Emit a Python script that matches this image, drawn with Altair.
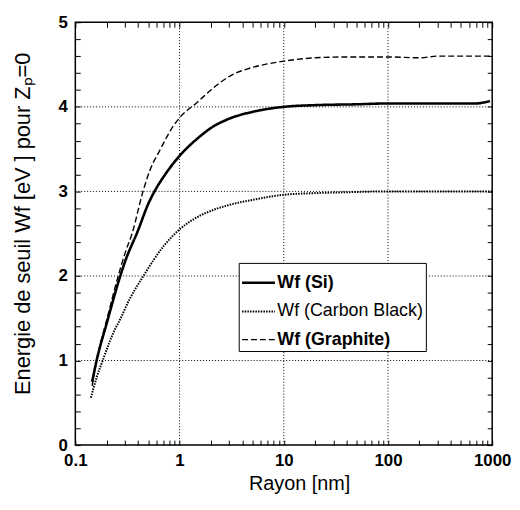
import altair as alt
import pandas as pd

series_names = ["Wf (Si)", "Wf (Carbon Black)", "Wf (Graphite)"]

si_x = [0.145, 0.16, 0.2, 0.27, 0.3, 0.4, 0.5, 0.6, 0.7, 1.0, 1.5, 2, 3, 5, 10, 20, 50, 100, 300, 700, 950]
si_y = [0.75, 1.0, 1.44, 2.0, 2.17, 2.54, 2.85, 3.04, 3.17, 3.42, 3.63, 3.75, 3.86, 3.94, 4.0, 4.02, 4.03, 4.04, 4.04, 4.04, 4.07]

cb_x = [0.141, 0.16, 0.183, 0.21, 0.24, 0.26, 0.33, 0.45, 0.7, 1.0, 1.5, 2.1, 3, 5, 10, 20, 40, 100, 300, 1000]
cb_y = [0.56, 0.8, 1.0, 1.2, 1.37, 1.45, 1.72, 2.0, 2.35, 2.55, 2.70, 2.78, 2.84, 2.9, 2.96, 2.98, 2.99, 3.0, 3.0, 3.0]

gr_x = [0.145, 0.16, 0.2, 0.258, 0.3, 0.35, 0.446, 0.516, 0.643, 0.89, 1.0, 1.5, 2.0, 3.1, 4.5, 6.5, 10, 20, 40, 100, 200, 300, 1000]
gr_y = [0.7, 1.0, 1.48, 2.0, 2.27, 2.5, 3.0, 3.24, 3.48, 3.79, 3.87, 4.06, 4.2, 4.37, 4.45, 4.5, 4.54, 4.58, 4.59, 4.59, 4.58, 4.6, 4.6]

x_ticks = [0.1, 0.2, 0.3, 0.4, 0.5, 0.6, 0.7, 0.8, 0.9,
           1, 2, 3, 4, 5, 6, 7, 8, 9,
           10, 20, 30, 40, 50, 60, 70, 80, 90,
           100, 200, 300, 400, 500, 600, 700, 800, 900, 1000]
x_labels = [0.1, 1, 10, 100, 1000]
y_ticks = [0, 0.2, 0.4, 0.6, 0.8, 1, 1.2, 1.4, 1.6, 1.8, 2, 2.2, 2.4, 2.6, 2.8,
           3, 3.2, 3.4, 3.6, 3.8, 4, 4.2, 4.4, 4.6, 4.8, 5]
grid_x = [1, 10, 100]
grid_y = [1, 2, 3, 4]

rows = []
for name, xs, ys in [(series_names[0], si_x, si_y), (series_names[1], cb_x, cb_y), (series_names[2], gr_x, gr_y)]:
    for a, b in zip(xs, ys):
        rows.append({"r": a, "e": b, "series": name})
df = pd.DataFrame(rows)

FONT = "Liberation Sans"
W, H = 421, 427

xscale = alt.Scale(type="log", domain=[0.1, 1000], nice=False)
yscale = alt.Scale(domain=[0, 5], nice=False)

x_label_expr = "indexof(" + str(x_labels) + ", datum.value) >= 0 ? format(datum.value, '~g') : ''"

legend = alt.Legend(
    title=None, orient="none", legendX=165, legendY=243,
    symbolType="stroke", symbolSize=1100, symbolStrokeColor="black",
    labelFont=FONT, labelFontSize=18,
    labelFontWeight={"expr": "datum.label === 'Wf (Carbon Black)' ? 'normal' : 'bold'"},
    labelColor="black",
    labelOffset=1, strokeColor="black", fillColor="white", padding=2, rowPadding=2,
)

lines = alt.Chart(df).mark_line(interpolate="monotone", color="black").encode(
    x=alt.X("r:Q", scale=xscale, axis=alt.Axis(
        orient="bottom", values=x_ticks, labelExpr=x_label_expr, offset=-5, tickSize=5,
        tickColor="black", domain=False, grid=False, labelOverlap=False, labelFlush=False,
        labelFont=FONT, labelFontSize=17, labelFontWeight="bold", labelColor="black", labelPadding=8,
        title="Rayon [nm]", titleFont=FONT, titleFontSize=20, titleFontWeight="normal",
        titleColor="black", titleX=226, titlePadding=5)),
    y=alt.Y("e:Q", scale=yscale, axis=alt.Axis(
        orient="left", values=y_ticks, labelExpr="datum.value % 1 === 0 ? format(datum.value, 'd') : ''",
        offset=-5, tickSize=5, tickColor="black", domain=False, grid=False, labelOverlap=False,
        labelFlush=False, labelFont=FONT, labelFontSize=17, labelFontWeight="bold", labelColor="black",
        labelPadding=8, title="Energie de seuil Wf [eV ] pour Z\u209a=0", titleFont=FONT,
        titleFontSize=22, titleFontWeight="normal", titleColor="black", titleY=203, titlePadding=24)),
    strokeDash=alt.StrokeDash("series:N", scale=alt.Scale(domain=series_names, range=[[1, 0], [1.5, 1.2], [6, 3]]), legend=legend),
    strokeWidth=alt.StrokeWidth("series:N", scale=alt.Scale(domain=series_names, range=[2.6, 1.4, 2.6]), legend=legend),
)

gx = alt.Chart(pd.DataFrame({"g": grid_x})).mark_rule(color="black", strokeDash=[1, 2], strokeWidth=1).encode(
    x=alt.X("g:Q", scale=xscale, axis=alt.Axis(
        orient="top", values=x_ticks, labels=False, offset=-5, tickSize=5, tickColor="black",
        domain=False, grid=False, title=None)),
)
gy = alt.Chart(pd.DataFrame({"g": grid_y})).mark_rule(color="black", strokeDash=[1, 2], strokeWidth=1).encode(
    y=alt.Y("g:Q", scale=yscale, axis=alt.Axis(
        orient="right", values=y_ticks, labels=False, offset=-5, tickSize=5, tickColor="black",
        domain=False, grid=False, title=None)),
)

chart = alt.layer(gx, gy, lines).resolve_axis(x="independent", y="independent").properties(
    width=W, height=H,
    autosize=alt.AutoSizeParams(type="none"),
    padding={"left": 68, "top": 12, "right": 20, "bottom": 50},
    background="white",
).configure_view(stroke="black", strokeWidth=1.5)

chart.save("out.html", embed_options={"renderer": "svg", "actions": False})
